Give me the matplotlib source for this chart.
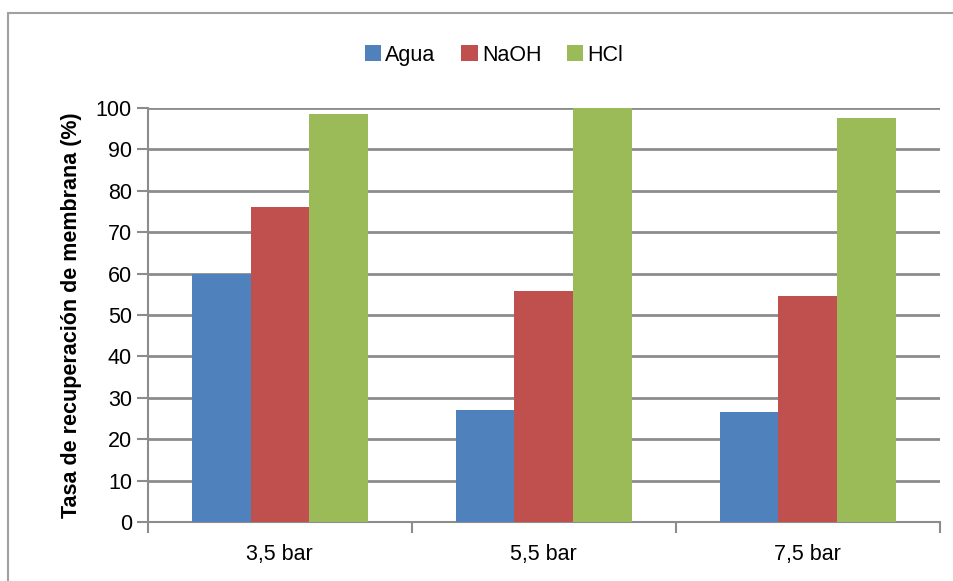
import matplotlib.pyplot as plt
import matplotlib.patches as mpatches
import numpy as np

# Tasa de recuperación por presión y tipo de limpieza
presiones = ['3,5 bar', '5,5 bar', '7,5 bar']
agua = [60.0, 27.0, 26.5]
naoh = [76.2, 55.9, 54.5]
hcl = [98.5, 100.0, 97.5]

series = ['Agua', 'NaOH', 'HCl']
colores = ['#4F81BD', '#C0504D', '#9BBB59']

plt.rcParams['font.family'] = ['Liberation Sans', 'DejaVu Sans']

fig = plt.figure(figsize=(9.54, 5.81), dpi=100)
ax = fig.add_axes([0.155, 0.1015, 0.83, 0.7125])

# marco exterior del gráfico
fig.patches.append(mpatches.Rectangle((8 / 954, -0.1), 1.2, 1 - 13 / 581 + 0.1,
                                      transform=fig.transFigure, fill=False,
                                      edgecolor='#A0A0A0', linewidth=1.5))

x = np.arange(len(presiones))
ancho = 0.222
for i, (vals, nombre, c) in enumerate(zip([agua, naoh, hcl], series, colores)):
    ax.bar(x + (i - 1) * ancho, vals, ancho, color=c, label=nombre, zorder=3)

ax.set_xlim(-0.5, 2.5)
ax.set_ylim(0, 100)
ax.set_yticks(range(0, 101, 10))
ax.yaxis.grid(True, color='#8C8C8C', linewidth=2, zorder=0)

ax.set_xticks(x)
ax.set_xticklabels(presiones, fontsize=15.5)
ax.tick_params(axis='x', length=0, pad=16)
ax.set_xticks([-0.5, 0.5, 1.5, 2.5], minor=True)
ax.tick_params(axis='x', which='minor', length=8, color='#8C8C8C', width=1.5)
ax.tick_params(axis='y', labelsize=15.5, length=8, color='#8C8C8C', width=1.5)

for lado in ['top', 'right']:
    ax.spines[lado].set_visible(False)
for lado in ['left', 'bottom']:
    ax.spines[lado].set_color('#8C8C8C')
    ax.spines[lado].set_linewidth(1.5)

ax.set_ylabel('Tasa de recuperación de membrana (%)', fontsize=15.5,
              fontweight='bold', labelpad=10)

fig.legend(loc='center', bbox_to_anchor=(0.518, 0.905), ncol=3, frameon=False,
           fontsize=15.5, handlelength=0.75, handleheight=0.75, handletextpad=0.2,
           columnspacing=1.2)

fig.savefig('out.png', dpi=100)
